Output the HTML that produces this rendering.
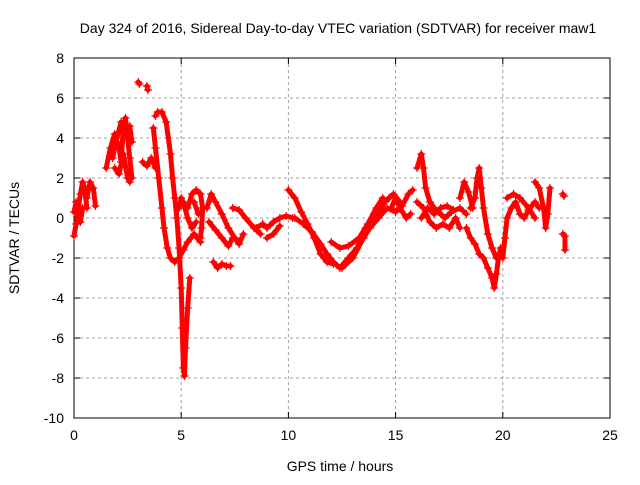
<!DOCTYPE html>
<html><head><meta charset="utf-8"><style>
body{margin:0;background:#fff}
svg text{font-family:"Liberation Sans",sans-serif;font-size:14px;fill:#000}
</style></head><body>
<svg id="chart" width="640" height="480" xmlns="http://www.w3.org/2000/svg">
<rect width="640" height="480" fill="#fff"/>
<text x="338" y="33" text-anchor="middle">Day 324 of 2016, Sidereal Day-to-day VTEC variation (SDTVAR) for receiver maw1</text>
<g id="grid"></g>
<g id="axes"></g>
<g id="series"></g>
<text x="340" y="471" text-anchor="middle">GPS time / hours</text>
<text transform="translate(19,238) rotate(-90)" text-anchor="middle">SDTVAR / TECUs</text>
</svg>
<script>
const xTicks=[0,5,10,15,20,25];
const yTicks=[-10,-8,-6,-4,-2,0,2,4,6,8];
const tracks=[
[[0,-0.9],[0.1,-0.3],[0.2,0.5],[0.3,1.2],[0.4,1.8],[0.5,1.5],[0.6,0.5]],
[[0,0.3],[0.1,0.8],[0.2,0.2],[0.3,-0.2],[0.4,0.5]],
[[0.6,1],[0.75,1.8],[0.9,1.5],[1.0,0.6]],
[[1.5,2.5],[1.7,3.5],[1.9,4.2],[2.1,3.5],[2.2,2.8],[2.3,4.5],[2.4,5],[2.5,4],[2.6,3],[2.7,2]],
[[1.8,3],[2.0,4],[2.2,4.8],[2.4,4.2],[2.6,4.6],[2.7,3.8]],
[[1.9,2.5],[2.1,2.2],[2.3,3.2],[2.5,2.0],[2.6,1.8]],
[[3.0,6.8],[3.05,6.7]],
[[3.4,6.6],[3.45,6.4]],
[[3.2,2.8],[3.4,2.6],[3.6,3],[3.8,2.5]],
[[3.8,5.1],[3.9,5.3],[4.1,5.3],[4.3,4.8],[4.5,3.2],[4.6,2],[4.7,1],[4.8,0],[4.9,-1.5],[5.0,-3.5],[5.05,-5.5],[5.1,-7.5],[5.15,-7.9],[5.2,-6.5],[5.3,-4.5],[5.4,-3]],
[[3.7,4.5],[3.8,3.5],[3.95,2],[4.1,0.5],[4.2,-0.5],[4.35,-1.5],[4.5,-2],[4.7,-2.2],[4.9,-2],[5.1,-1.6],[5.3,-1.2],[5.6,-0.8],[5.9,-1.2]],
[[4.9,0.5],[5.0,1],[5.1,0.8],[5.3,0],[5.5,-0.5],[5.7,-0.2]],
[[5.3,0.5],[5.5,1.2],[5.7,1.4],[5.9,1.2],[6.0,0.5],[5.95,-0.5],[5.9,-1]],
[[5.6,0.8],[5.8,0.2]],
[[6.2,0.5],[6.4,1.2],[6.6,0.8],[6.9,0.2],[7.2,-0.5],[7.5,-1],[7.7,-1.3],[7.9,-0.8]],
[[6.3,-0.2],[6.6,-0.6],[6.9,-1],[7.2,-1.4],[7.4,-1]],
[[6.5,-2.2],[6.7,-2.5],[6.9,-2.3],[7.1,-2.4],[7.3,-2.4]],
[[7.4,0.5],[7.7,0.4],[8.0,0],[8.4,-0.5],[8.7,-0.8]],
[[8.5,-0.5],[8.8,-0.3],[9.0,-0.5],[9.3,-0.2],[9.6,0],[9.9,0.1],[10.2,0]],
[[9.0,-1],[9.3,-0.8],[9.6,-0.4]],
[[10.0,1.4],[10.3,1],[10.6,0.3],[10.9,-0.3],[11.2,-1],[11.5,-1.8],[11.8,-2.2],[12.1,-2.3]],
[[10.3,0],[10.7,-0.3],[11.1,-0.7],[11.5,-1.3],[11.8,-1.8],[12.1,-2.2],[12.4,-2.5],[12.8,-2],[13.2,-1.5],[13.6,-0.5],[14.0,0.2],[14.4,0.8],[14.7,1.0]],
[[12.0,-1.2],[12.4,-1.5],[12.8,-1.4],[13.3,-1],[13.7,-0.3],[14.1,0.5],[14.4,1.0]],
[[12.5,-2.5],[13.0,-2],[13.5,-1],[14.0,0],[14.5,0.8],[14.9,1.2],[15.2,0.8]],
[[13.5,-1],[13.8,-0.5],[14.2,0],[14.6,0.5],[15.0,0.3],[15.3,0.6],[15.6,1.2],[15.8,1.4]],
[[14.8,0.5],[15.0,1.0],[15.2,0.5],[15.5,0],[15.7,0.2]],
[[16.0,2.5],[16.2,3.2],[16.3,2.5],[16.4,1.5],[16.6,0.8],[16.8,0.5],[17.0,0.3],[17.3,0],[17.6,0.3],[18.0,0.5],[18.3,0.2]],
[[16.0,0.8],[16.3,0.5],[16.6,-0.2],[16.9,-0.5],[17.2,-0.3],[17.5,-0.5],[17.8,0],[18.0,-0.5]],
[[16.2,0],[16.5,0.5],[16.8,0.2],[17.1,0.5],[17.4,0.6],[17.7,0.4]],
[[18.3,-0.5],[18.5,-1],[18.7,-1.3],[18.9,-1.8],[19.1,-2],[19.3,-2.5],[19.5,-3],[19.6,-3.5],[19.7,-2.8],[19.8,-2],[19.9,-1.5]],
[[18.5,0.5],[18.7,1],[18.8,2],[18.9,2.5],[19.0,1.5],[19.1,0.5],[19.3,-0.8],[19.5,-1.5],[19.7,-2]],
[[18.0,1],[18.2,1.8],[18.4,1.3],[18.6,0.5]],
[[20.0,-2],[20.1,-1],[20.2,0],[20.4,0.5],[20.6,0.8],[20.8,0.2],[21.0,0],[21.2,0.4],[21.5,0.8],[21.7,0.5]],
[[20.2,1],[20.5,1.2],[20.8,1],[21.2,0.5],[21.5,0]],
[[21.5,1.8],[21.7,1.5],[21.9,0.5],[22.0,-0.5],[22.1,0.2],[22.2,1.5]],
[[22.8,1.2],[22.85,1.1]],
[[22.8,-0.8],[22.9,-0.9],[22.9,-1.6]]
];
const NS='http://www.w3.org/2000/svg';
const L=74,R=610,T=58,B=418,xMin=0,xMax=25,yMin=-10,yMax=8;
const xs=v=>L+(v-xMin)/(xMax-xMin)*(R-L);
const ys=v=>B-(v-yMin)/(yMax-yMin)*(B-T);
function mk(tag,attrs,parent){const e=document.createElementNS(NS,tag);for(const k in attrs)e.setAttribute(k,attrs[k]);parent.appendChild(e);return e;}
const grid=document.getElementById('grid'),axes=document.getElementById('axes'),ser=document.getElementById('series');
xTicks.forEach(t=>{const x=xs(t);
 if(t>xMin&&t<xMax){const g=mk('line',{x1:x,x2:x,y1:T,y2:B,stroke:'#a0a0a0','stroke-dasharray':'3,3'},grid);}
 mk('line',{x1:x,x2:x,y1:B,y2:B-6,stroke:'#000'},axes);mk('line',{x1:x,x2:x,y1:T,y2:T+6,stroke:'#000'},axes);
 const tx=mk('text',{x:x,y:B+22,'text-anchor':'middle'},axes);tx.textContent=t;
 });
yTicks.forEach(t=>{const y=ys(t);
 if(t>yMin&&t<yMax){const g=mk('line',{x1:L,x2:R,y1:y,y2:y,stroke:'#a0a0a0','stroke-dasharray':'3,3'},grid);}
 mk('line',{x1:L,x2:L+6,y1:y,y2:y,stroke:'#000'},axes);mk('line',{x1:R,x2:R-6,y1:y,y2:y,stroke:'#000'},axes);
 const tx=mk('text',{x:L-10,y:y+5,'text-anchor':'end'},axes);tx.textContent=t;
 });
mk('rect',{x:L,y:T,width:R-L,height:B-T,fill:'none',stroke:'#000'},axes);
tracks.forEach(tr=>{
 const pl=mk('polyline',{points:tr.map(p=>xs(p[0])+','+ys(p[1])).join(' '),fill:'none',stroke:'#ff0000','stroke-width':5,'stroke-linejoin':'round','stroke-linecap':'round'},ser);
 
 
 tr.forEach(p=>{const x=xs(p[0]),y=ys(p[1]);
  const m=mk('path',{d:`M${x-4},${y}H${x+4}M${x},${y-4}V${y+4}`,stroke:'#ff0000','stroke-width':1.2},ser);
  
  });
});
</script>
</body></html>
